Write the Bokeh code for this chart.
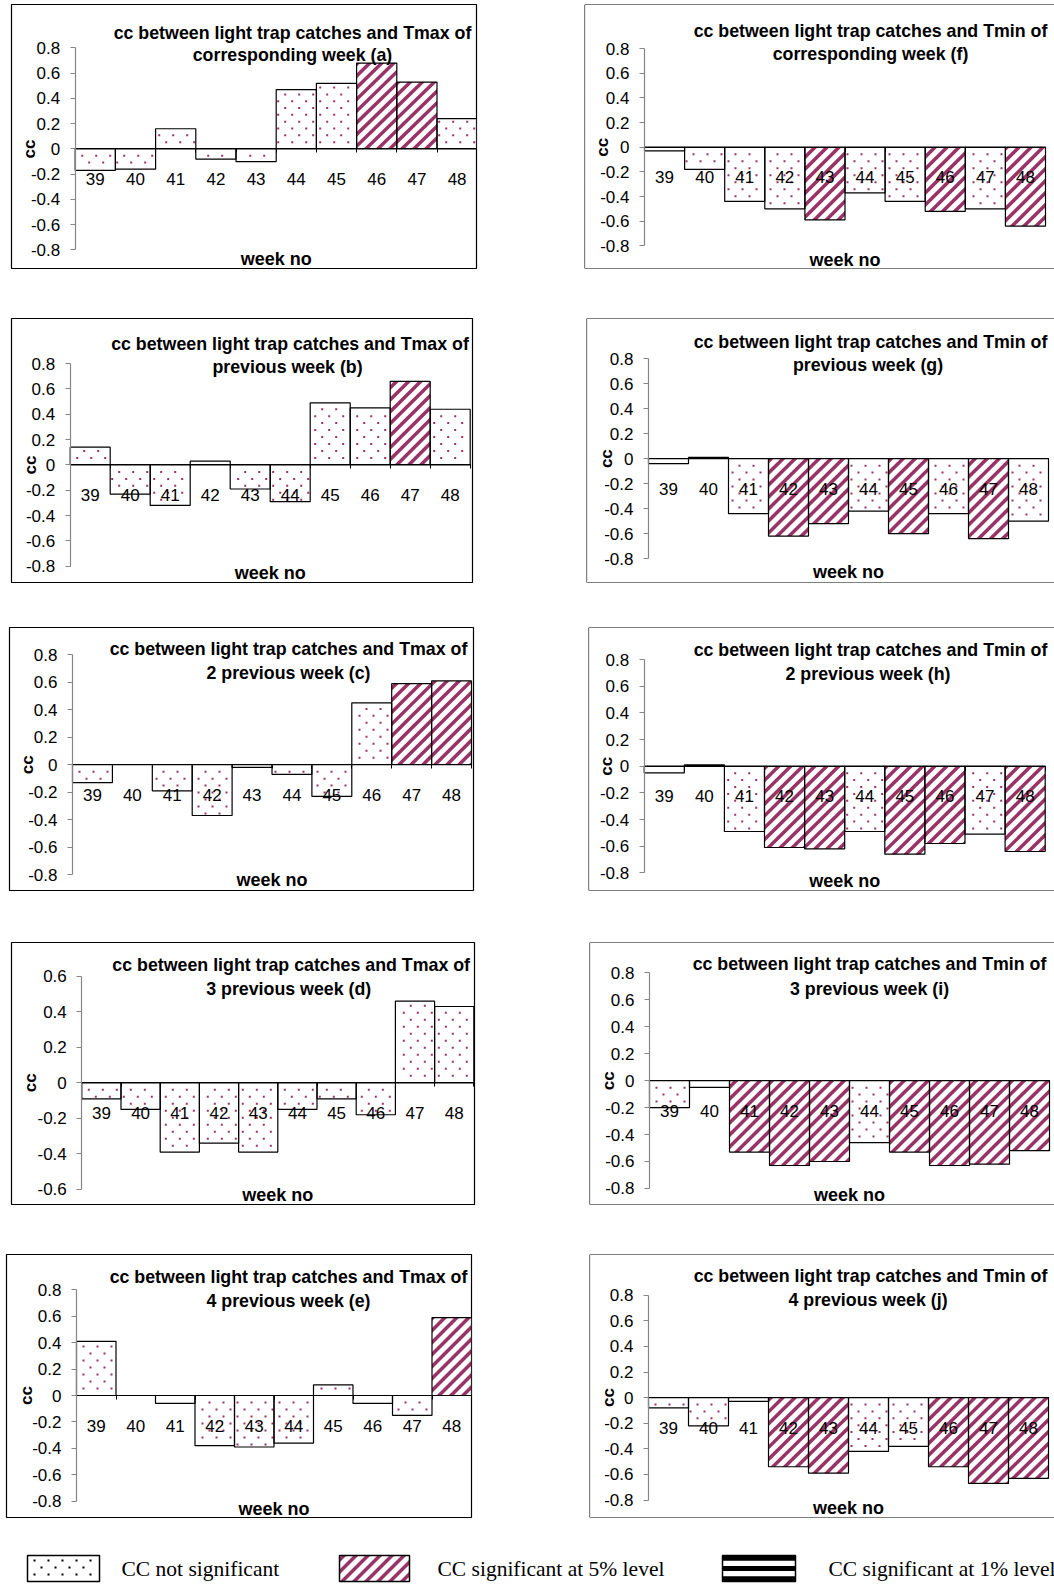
import math
from bokeh.plotting import figure
from bokeh.layouts import column, row
from bokeh.models import Range1d, LinearAxis, FixedTicker, CustomJSTickFormatter, Span
from bokeh.core.properties import value
from bokeh.embed import file_html
from bokeh.resources import INLINE

# ---------------- data ----------------
weeks = [39, 40, 41, 42, 43, 44, 45, 46, 47, 48]

yticks_08 = [-0.8, -0.6, -0.4, -0.2, 0.0, 0.2, 0.4, 0.6, 0.8]
yticks_06 = [-0.6, -0.4, -0.2, 0.0, 0.2, 0.4, 0.6]

# correlation coefficients (cc) and significance (0 = not significant, 1 = 5% level)
cc_a = [-0.17, -0.16, 0.16, -0.08, -0.10, 0.47, 0.52, 0.68, 0.53, 0.24]
sig_a = [0, 0, 0, 0, 0, 0, 0, 1, 1, 0]
cc_b = [0.14, -0.23, -0.32, 0.03, -0.19, -0.29, 0.49, 0.45, 0.66, 0.44]
sig_b = [0, 0, 0, 0, 0, 0, 0, 0, 1, 0]
cc_c = [-0.13, 0.00, -0.19, -0.37, -0.02, -0.07, -0.23, 0.45, 0.59, 0.61]
sig_c = [0, 0, 0, 0, 0, 0, 0, 0, 1, 1]
cc_d = [-0.09, -0.15, -0.39, -0.34, -0.39, -0.15, -0.09, -0.18, 0.46, 0.43]
sig_d = [0, 0, 0, 0, 0, 0, 0, 0, 0, 0]
cc_e = [0.41, 0.00, -0.06, -0.38, -0.39, -0.36, 0.08, -0.06, -0.15, 0.59]
sig_e = [0, 0, 0, 0, 0, 0, 0, 0, 0, 1]
cc_f = [-0.03, -0.18, -0.44, -0.50, -0.59, -0.37, -0.44, -0.52, -0.50, -0.64]
sig_f = [0, 0, 0, 0, 1, 0, 0, 1, 0, 1]
cc_g = [-0.04, 0.01, -0.44, -0.62, -0.52, -0.42, -0.60, -0.44, -0.64, -0.50]
sig_g = [0, 0, 0, 1, 1, 0, 1, 0, 1, 0]
cc_h = [-0.05, 0.01, -0.49, -0.61, -0.62, -0.49, -0.66, -0.58, -0.51, -0.64]
sig_h = [0, 0, 0, 1, 1, 0, 1, 1, 0, 1]
cc_i = [-0.20, -0.05, -0.53, -0.63, -0.60, -0.46, -0.53, -0.63, -0.62, -0.52]
sig_i = [0, 0, 1, 1, 1, 0, 1, 1, 1, 1]
cc_j = [-0.08, -0.22, -0.03, -0.54, -0.59, -0.42, -0.38, -0.54, -0.67, -0.63]
sig_j = [0, 0, 0, 1, 1, 0, 0, 1, 1, 1]

title_max = "cc between light trap catches and Tmax of"
title_min = "cc between light trap catches and Tmin of"
subtitles = {
    "a": "corresponding week (a)", "b": "previous week  (b)", "c": "2 previous week (c)",
    "d": "3 previous week  (d)", "e": "4 previous week (e)",
    "f": "corresponding week (f)", "g": "previous week  (g)", "h": "2 previous week  (h)",
    "i": "3 previous week (i)", "j": "4 previous week  (j)",
}
legend_labels = ["CC not significant", "CC significant at 5% level", "CC significant at 1% level"]

# ---------------- styles ----------------
PLUM = "#993366"
FONT = "Liberation Sans"
SERIF = "Liberation Serif"
STRIPE_PERIOD = 12.0   # px, horizontal period of the 45 degree stripes
STRIPE_THICK = 5.0     # px, horizontal thickness of a stripe
DOT_DX = 14.0          # px, dot spacing in a row
DOT_DY = 7.0           # px, row spacing (rows staggered)

# ---------------- layout (page pixel geometry, origin at page top-left) ----------------
LEFT = (0, 530)
RIGHT = (530, 524)
ROWS = [(0, 292), (292, 310), (602, 310), (912, 310), (1222, 310)]
LEG_ROW = (1532, 53)

# key: (col, row, box(l,t,r,b), axis_x, zero_y, px_per_unit, bar_w, title_x, title_b1, title_b2, weekno_b, cc_x)
GEOM = {
    "a": (LEFT, 0, (11, 3, 476, 274), 74.7, 151.3, 129.6, 40.2, 292, 32, 55, 264, 29),
    "f": (RIGHT, 0, (584, 4, 1054, 268), 644, 146.7, 123.3, 40.1, 870, 30.7, 53.3, 259.3, 602),
    "b": (LEFT, 1, (11, 317, 472, 582), 69.7, 464, 127.1, 40.0, 289.5, 342.3, 366, 572, 30),
    "g": (RIGHT, 1, (586, 318, 1054, 583), 648, 458.7, 125.4, 40.0, 870, 341.7, 365, 572.7, 605.5),
    "c": (LEFT, 2, (9, 626, 473, 890), 72, 763.7, 137.9, 39.9, 288, 648, 672, 879, 27),
    "h": (RIGHT, 2, (588, 627, 1054, 893), 643.7, 767.3, 134.8, 40.1, 870, 649.3, 673.7, 883.7, 605.5),
    "d": (LEFT, 3, (11, 942, 474, 1204), 81.3, 1082.3, 177.5, 39.2, 290.7, 964.7, 988, 1194.7, 30),
    "i": (RIGHT, 3, (589, 941, 1054, 1204), 649, 1079.7, 135.2, 40.0, 869, 963, 987.3, 1194.7, 608),
    "e": (LEFT, 4, (6, 1254, 471, 1517), 76, 1395, 132.1, 39.5, 288, 1276.3, 1300.3, 1508, 26),
    "j": (RIGHT, 4, (589, 1254, 1054, 1521), 648, 1399.3, 130.0, 40.0, 870, 1276.3, 1300.3, 1511, 608),
}

DATA = {
    "a": (cc_a, sig_a, title_max, yticks_08), "b": (cc_b, sig_b, title_max, yticks_08),
    "c": (cc_c, sig_c, title_max, yticks_08), "d": (cc_d, sig_d, title_max, yticks_06),
    "e": (cc_e, sig_e, title_max, yticks_08), "f": (cc_f, sig_f, title_min, yticks_08),
    "g": (cc_g, sig_g, title_min, yticks_08), "h": (cc_h, sig_h, title_min, yticks_08),
    "i": (cc_i, sig_i, title_min, yticks_08), "j": (cc_j, sig_j, title_min, yticks_08),
}


# ---------------- fill pattern helpers (work in pixel space) ----------------
def clip_poly(poly, a, b, c):
    """keep the part of poly where a*x + b*y <= c"""
    out = []
    n = len(poly)
    for i in range(n):
        P = poly[i]
        Q = poly[(i + 1) % n]
        fp = a * P[0] + b * P[1] - c
        fq = a * Q[0] + b * Q[1] - c
        if fp <= 0:
            out.append(P)
        if (fp < 0 < fq) or (fq < 0 < fp):
            t = fp / (fp - fq)
            out.append((P[0] + t * (Q[0] - P[0]), P[1] + t * (Q[1] - P[1])))
    return out


def stripes_in_rect(X0, X1, Y0, Y1):
    """45-degree '/' stripes inside a pixel rectangle (Y upwards)"""
    polys = []
    if X1 - X0 < 0.5 or Y1 - Y0 < 0.5:
        return polys
    rect = [(X0, Y0), (X1, Y0), (X1, Y1), (X0, Y1)]
    kmin = math.floor((X0 - Y1) / STRIPE_PERIOD) - 1
    kmax = math.ceil((X1 - Y0) / STRIPE_PERIOD) + 1
    for k in range(kmin, kmax + 1):
        c = k * STRIPE_PERIOD
        poly = clip_poly(rect, -1, 1, -c)
        if len(poly) < 3:
            continue
        poly = clip_poly(poly, 1, -1, c + STRIPE_THICK)
        if len(poly) >= 3:
            polys.append(poly)
    return polys


def dots_in_rect(X0, X1, Y0, Y1, inset=1.5):
    pts = []
    jmin = math.ceil((Y0 + inset) / DOT_DY)
    jmax = math.floor((Y1 - inset) / DOT_DY)
    for j in range(jmin, jmax + 1):
        off = (j % 2) * DOT_DX / 2
        imin = math.ceil((X0 + inset - off) / DOT_DX)
        imax = math.floor((X1 - inset - off) / DOT_DX)
        for i in range(imin, imax + 1):
            pts.append((i * DOT_DX + off, j * DOT_DY))
    return pts


def make_panel(key):
    col, ri, box, axis_x, zero_y, sc, bw, tx, tb1, tb2, wb, ccx = GEOM[key]
    vals, sig, title1, yticks = DATA[key]
    cx, cw = col
    cy, ch = ROWS[ri]
    bl, bt, br, bb = box
    open_right = (cx + cw - br) == 0   # panel is cut by the page edge

    def xd(px):
        return weeks[0] - 0.5 + (px - axis_x) / bw

    def yd(py):
        return (zero_y - py) / sc

    p = figure(width=cw, height=ch, title=None,
               x_range=Range1d(xd(bl), xd(br)), y_range=Range1d(yd(bb), yd(bt)),
               x_axis_type=None, y_axis_type=None,
               output_backend="svg", toolbar_location=None,
               min_border_left=bl - cx, min_border_right=cx + cw - br,
               min_border_top=bt - cy, min_border_bottom=cy + ch - bb)
    p.background_fill_color = "white"
    p.border_fill_color = "white"
    if open_right:
        p.outline_line_color = None
        for loc, dim in ((yd(bt), "width"), (yd(bb), "width"), (xd(bl), "height")):
            p.add_layout(Span(location=loc, dimension=dim, line_color="black", line_width=1.2))
    else:
        p.outline_line_color = "black"
        p.outline_line_width = 1.2

    # white bar bodies
    p.vbar(x=weeks, top=vals, bottom=0, width=1, fill_color="white", line_color=None)

    # fill patterns computed from each bar's extent (pixel space -> data space)
    sx, sy, dx, dy = [], [], [], []
    for w, v, s in zip(weeks, vals, sig):
        X0 = (w - weeks[0]) * bw
        X1 = X0 + bw
        Y0, Y1 = sorted((0.0, v * sc))
        if s == 1:
            for poly in stripes_in_rect(X0, X1, Y0, Y1):
                sx.append([weeks[0] - 0.5 + P[0] / bw for P in poly])
                sy.append([P[1] / sc for P in poly])
        else:
            for (X, Y) in dots_in_rect(X0, X1, Y0, Y1):
                dx.append(weeks[0] - 0.5 + X / bw)
                dy.append(Y / sc)
    p.patches(xs=sx, ys=sy, fill_color=PLUM, line_color=None)
    p.scatter(x=dx, y=dy, marker="square", size=2, fill_color=PLUM, line_color=None)

    # bar outlines on top
    p.vbar(x=weeks, top=vals, bottom=0, width=1, fill_alpha=0,
           line_color="black", line_width=1.2)

    # y axis at the left edge of the first bar
    yax = LinearAxis(fixed_location=weeks[0] - 0.5,
                     ticker=FixedTicker(ticks=yticks),
                     formatter=CustomJSTickFormatter(
                         code="return Math.abs(tick) < 1e-9 ? '0' : tick.toFixed(1);"),
                     bounds=(min(yticks), max(yticks)),
                     axis_line_color="#868686", axis_line_width=1.2,
                     major_tick_line_color="#868686", major_tick_line_width=1.2,
                     major_tick_out=5, major_tick_in=0,
                     minor_tick_out=0, minor_tick_in=0,
                     major_label_text_font=FONT, major_label_text_font_size="17px",
                     major_label_text_color="black", major_label_standoff=10)
    p.add_layout(yax, "left")

    # x axis crossing at zero
    xax = LinearAxis(fixed_location=0,
                     ticker=FixedTicker(ticks=weeks,
                                        minor_ticks=[w - 0.5 for w in weeks] + [weeks[-1] + 0.5]),
                     bounds=(weeks[0] - 0.5, weeks[-1] + 0.5),
                     axis_line_color="black", axis_line_width=1.2,
                     major_tick_out=0, major_tick_in=0,
                     minor_tick_out=4, minor_tick_in=0,
                     minor_tick_line_color="black", minor_tick_line_width=1,
                     major_label_text_font=FONT, major_label_text_font_size="17px",
                     major_label_text_color="black", major_label_standoff=20)
    p.add_layout(xax, "below")

    # chart title (two lines)
    p.text(x=[xd(tx), xd(tx)], y=[yd(tb1), yd(tb2)], text=[title1, subtitles[key]],
           text_font=value(FONT), text_font_style="bold", text_font_size="17.8px",
           text_align="center", text_baseline="alphabetic", text_color="black")
    # axis titles
    p.text(x=[(weeks[0] + weeks[-1]) / 2], y=[yd(wb)], text=["week no"],
           text_font=value(FONT), text_font_style="bold", text_font_size="18px",
           text_align="center", text_baseline="alphabetic", text_color="black")
    p.text(x=[xd(ccx)], y=[0.0], text=["cc"], angle=math.pi / 2,
           text_font=value(FONT), text_font_style="bold", text_font_size="17px",
           text_align="center", text_baseline="middle", text_color="black")
    return p


panels = {k: make_panel(k) for k in "abcdefghij"}

# ---------------- legend strip (pixel coordinates of the strip) ----------------
LEG_SW_X = [27, 339, 722]       # swatch left edges
LEG_SW_W = [72, 70, 73]
LEG_SW_TOP = 1555
LEG_SW_H = 26
LEG_TXT_X = [121, 437, 828]

ly0, lh = LEG_ROW
lg = figure(width=1054, height=lh, title=None,
            x_range=Range1d(0, 1054), y_range=Range1d(ly0 + lh, ly0),
            x_axis_type=None, y_axis_type=None, output_backend="svg", toolbar_location=None,
            min_border_left=0, min_border_top=0, min_border_right=0, min_border_bottom=0)
lg.outline_line_color = None
lg.background_fill_color = "white"
lg.border_fill_color = "white"

sw_l = LEG_SW_X
sw_r = [x + w for x, w in zip(LEG_SW_X, LEG_SW_W)]
sw_t = [LEG_SW_TOP] * 3
sw_b = [LEG_SW_TOP + LEG_SW_H] * 3
lg.quad(left=sw_l, right=sw_r, top=sw_t, bottom=sw_b, fill_color="white", line_color=None)

# swatch 1: dots (black)
d1 = dots_in_rect(0, LEG_SW_W[0], 0, LEG_SW_H, inset=3)
lg.scatter(x=[sw_l[0] + X for X, Y in d1], y=[sw_b[0] - Y for X, Y in d1],
           marker="square", size=2, fill_color="black", line_color=None)
# swatch 2: plum stripes
s2 = stripes_in_rect(0, LEG_SW_W[1], 0, LEG_SW_H)
lg.patches(xs=[[sw_l[1] + X for X, Y in poly] for poly in s2],
           ys=[[sw_b[1] - Y for X, Y in poly] for poly in s2],
           fill_color=PLUM, line_color=None)
# swatch 3: black horizontal bands
nb = 5
bh = LEG_SW_H / nb
lg.quad(left=[sw_l[2]] * 3, right=[sw_r[2]] * 3,
        top=[sw_t[2] + 2 * k * bh for k in range(3)],
        bottom=[sw_t[2] + (2 * k + 1) * bh for k in range(3)],
        fill_color="black", line_color=None)
lg.quad(left=sw_l, right=sw_r, top=sw_t, bottom=sw_b, fill_alpha=0,
        line_color="black", line_width=1.5)
lg.text(x=LEG_TXT_X, y=[LEG_SW_TOP + LEG_SW_H / 2] * 3, text=legend_labels,
        text_font=value(SERIF), text_font_size="21.5px", text_color="black",
        text_align="left", text_baseline="middle")

root = column(
    row(panels["a"], panels["f"]),
    row(panels["b"], panels["g"]),
    row(panels["c"], panels["h"]),
    row(panels["d"], panels["i"]),
    row(panels["e"], panels["j"]),
    lg,
)

open("out.html", "w").write(file_html(root, INLINE))
